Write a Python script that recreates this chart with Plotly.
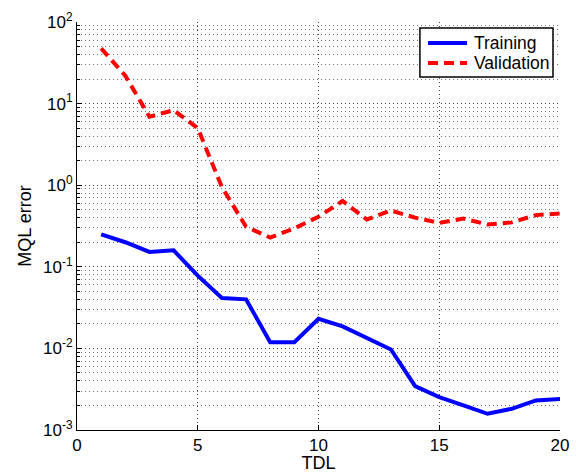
import plotly.graph_objects as go

tdl = list(range(1, 21))
training = [0.25, 0.20, 0.152, 0.159, 0.078, 0.0414, 0.0399, 0.0119, 0.0119, 0.0231,
            0.0186, 0.0136, 0.0097, 0.00345, 0.00253, 0.0020, 0.00158, 0.00182, 0.0023, 0.00239]
validation = [47.5, 22.0, 6.9, 8.3, 5.0, 0.95, 0.31, 0.228, 0.296, 0.41,
              0.64, 0.38, 0.49, 0.40, 0.345, 0.39, 0.33, 0.35, 0.43, 0.45]
series_names = ["Training", "Validation"]

x_ticks = [0, 5, 10, 15, 20]
y_tickvals = [1e-3, 1e-2, 1e-1, 1e0, 1e1, 1e2]
y_ticktext = ["10<sup>-3</sup>", "10<sup>-2</sup>", "10<sup>-1</sup>",
              "10<sup>0</sup>", "10<sup>1</sup>", "10<sup>2</sup>"]
minor_vals = [m * 10.0 ** e for e in range(-3, 2) for m in range(2, 10)]

font = "Liberation Sans, Arial, Helvetica, sans-serif"
gridc = "rgba(0,0,0,0.75)"
dots = "1px,3px"
blue_line = dict(color="#0000ff", width=4)
red_line = dict(color="#ff0000", width=4, dash="10px,6px")

fig = go.Figure()
fig.add_trace(go.Scatter(x=tdl, y=validation, mode="lines", name=series_names[1],
                         line=red_line, showlegend=False))
fig.add_trace(go.Scatter(x=tdl, y=training, mode="lines", name=series_names[0],
                         line=blue_line, showlegend=False))

# Compact MATLAB-style legend (box, sample lines, labels) in paper coordinates
fig.add_shape(type="rect", xref="paper", yref="paper", x0=0.710, x1=0.9855, y0=0.865, y1=0.9853,
              line=dict(color="black", width=1.5), fillcolor="white", layer="above")
legend_rows = [(0.9485, blue_line, series_names[0]), (0.8995, red_line, series_names[1])]
for yy, ln, label in legend_rows:
    fig.add_shape(type="line", xref="paper", yref="paper", x0=0.7267, x1=0.8075, y0=yy, y1=yy,
                  line=ln, layer="above")
    fig.add_annotation(xref="paper", yref="paper", x=0.818, y=yy, text=label, showarrow=False,
                       xanchor="left", yanchor="middle", font=dict(size=17.5, color="black"))

fig.update_layout(
    width=576, height=473,
    margin=dict(l=77, r=16, t=22, b=43),
    paper_bgcolor="white", plot_bgcolor="white",
    font=dict(family=font, size=17, color="black"),
    showlegend=False,
)
fig.update_xaxes(
    range=[0, 20], tickvals=x_ticks, ticks="inside", ticklen=5, tickcolor="black",
    showline=True, linecolor="black", linewidth=1, mirror=False,
    showgrid=True, gridcolor=gridc, griddash=dots, gridwidth=1,
    zeroline=False, automargin=False,
    title=dict(text="TDL", font=dict(size=18), standoff=1),
)
fig.update_yaxes(
    type="log", range=[-3, 2], tickmode="array", tickvals=y_tickvals, ticktext=y_ticktext,
    ticks="inside", ticklen=5, tickcolor="black",
    showline=True, linecolor="black", linewidth=1, mirror=False,
    showgrid=True, gridcolor=gridc, griddash=dots, gridwidth=1,
    zeroline=False, automargin=False,
    minor=dict(tickmode="array", tickvals=minor_vals, ticks="inside", ticklen=3,
               tickcolor="black", showgrid=True, gridcolor="rgba(0,0,0,0.55)",
               griddash=dots, gridwidth=1),
    title=dict(text="MQL error", font=dict(size=18), standoff=6),
)

fig.write_html("out.html")
